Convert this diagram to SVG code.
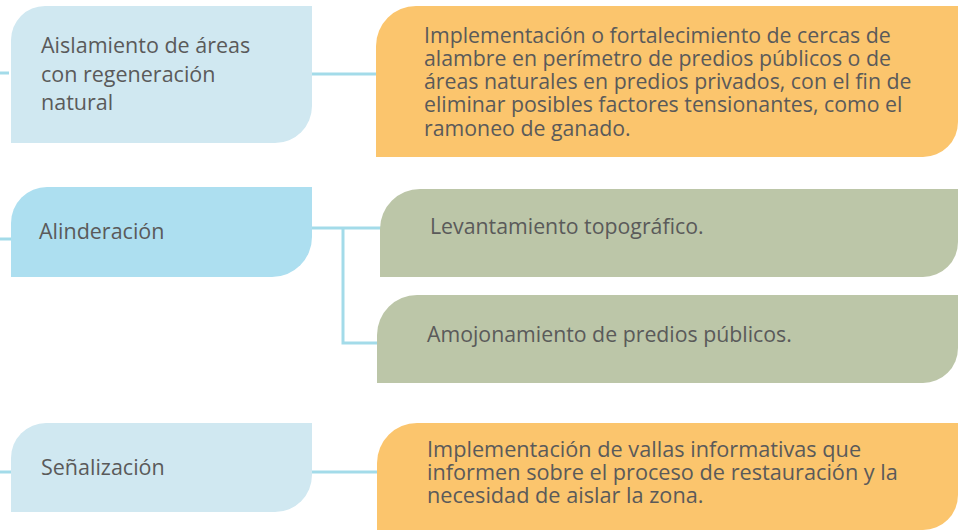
<svg xmlns="http://www.w3.org/2000/svg" width="958" height="531" viewBox="0 0 958 531">
<style>
.t{font-family:"Open Sans","Noto Sans","DejaVu Sans",sans-serif;fill:#5a5a5a}
.l{font-size:21.5px}
.r{font-size:21.3px}
.v{font-size:21.7px}
.c{fill:none;stroke:#a3dbe9;stroke-width:3}
.b1{fill:#d0e8f1}
.b2{fill:#addff0}
.o{fill:#fbc56d}
.g{fill:#bcc6a8}
</style>
<rect width="958" height="531" fill="#ffffff"/>
<g id="connectors">
<path class="c" d="M0,73 H9"/>
<path class="c" d="M312,74 H378"/>
<path class="c" d="M0,239 H14"/>
<path class="c" d="M312,228 H382 M343,228 V343 H379"/>
<path class="c" d="M0,472 H12"/>
<path class="c" d="M312,472 H379"/>
</g>
<g id="n-aislamiento">
<path class="b1" d="M11,40 A34,34 0 0 1 45,6 H312 V106 A37,37 0 0 1 275,143 H11 Z"/>
<text class="t l"><tspan x="41" y="53">Aislamiento de áreas</tspan><tspan x="41" y="82">con regeneración</tspan><tspan x="41" y="110">natural</tspan></text>
</g>
<g id="n-cercas">
<path class="o" d="M376,46 A40,40 0 0 1 416,6 H958 V122 A35,35 0 0 1 923,157 H376 Z"/>
<text class="t r"><tspan x="424" y="43">Implementación o fortalecimiento de cercas de</tspan><tspan x="424" y="66">alambre en perímetro de predios públicos o de</tspan><tspan x="424" y="89">áreas naturales en predios privados, con el fin de</tspan><tspan x="424" y="112">eliminar posibles factores tensionantes, como el</tspan><tspan x="424" y="136">ramoneo de ganado.</tspan></text>
</g>
<g id="n-alinderacion">
<path class="b2" d="M11,223 A36,36 0 0 1 47,187 H312 V237 A40,40 0 0 1 272,277 H11 Z"/>
<text class="t l" x="39" y="239">Alinderación</text>
</g>
<g id="n-levantamiento">
<path class="g" d="M380,229 A40,40 0 0 1 420,189 H958 V242 A35,35 0 0 1 923,277 H380 Z"/>
<text class="t r" x="430" y="234">Levantamiento topográfico.</text>
</g>
<g id="n-amojonamiento">
<path class="g" d="M377,335 A40,40 0 0 1 417,295 H958 V348 A35,35 0 0 1 923,383 H377 Z"/>
<text class="t r" x="427" y="342">Amojonamiento de predios públicos.</text>
</g>
<g id="n-senalizacion">
<path class="b1" d="M11,458 A35,35 0 0 1 46,423 H312 V475 A37,37 0 0 1 275,512 H11 Z"/>
<text class="t l" x="41" y="475">Señalización</text>
</g>
<g id="n-vallas">
<path class="o" d="M377,463 A40,40 0 0 1 417,423 H958 V495 A35,35 0 0 1 923,530 H377 Z"/>
<text class="t v"><tspan x="427" y="457">Implementación de vallas informativas que</tspan><tspan x="427" y="480">informen sobre el proceso de restauración y la</tspan><tspan x="427" y="503">necesidad de aislar la zona.</tspan></text>
</g>
</svg>
